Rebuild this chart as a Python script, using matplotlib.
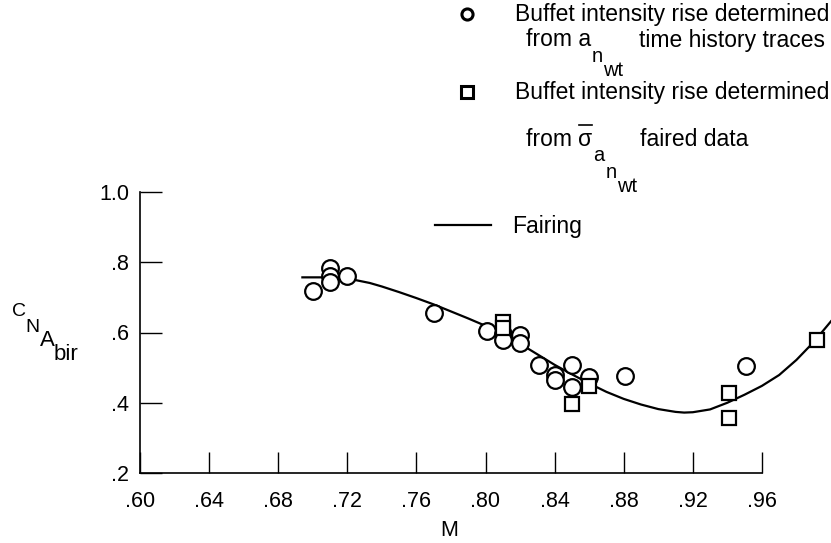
import numpy as np
import matplotlib.pyplot as plt

plt.rcParams["font.family"] = ["Liberation Sans", "DejaVu Sans"]

W, H = 831, 543

# ---- data ----
# circles: buffet intensity rise from a_n_wt time history traces
circ_M = [0.700, 0.710, 0.710, 0.710, 0.720, 0.770, 0.801, 0.810, 0.810,
          0.820, 0.820, 0.831, 0.840, 0.840, 0.850, 0.850, 0.860, 0.881, 0.951]
circ_C = [0.717, 0.783, 0.762, 0.745, 0.760, 0.655, 0.605, 0.597, 0.580,
          0.593, 0.570, 0.508, 0.479, 0.465, 0.508, 0.446, 0.472, 0.476, 0.505]

# squares: from sigma_a_n_wt faired data
sq_M = [0.810, 0.810, 0.850, 0.860, 0.941, 0.941, 0.992]
sq_C = [0.630, 0.613, 0.397, 0.448, 0.427, 0.356, 0.579]

# fairing curve
fair_M = [0.694, 0.705, 0.715, 0.725, 0.733, 0.740, 0.750, 0.760, 0.770,
          0.780, 0.790, 0.800, 0.810, 0.820, 0.830, 0.840, 0.850, 0.860,
          0.870, 0.880, 0.890, 0.900, 0.910, 0.915, 0.920, 0.930, 0.940,
          0.950, 0.960, 0.970, 0.980, 0.990, 1.000]
fair_C = [0.757, 0.757, 0.755, 0.749, 0.741, 0.731, 0.715, 0.698, 0.680,
          0.660, 0.640, 0.619, 0.595, 0.568, 0.538, 0.508, 0.481, 0.455,
          0.431, 0.411, 0.395, 0.382, 0.374, 0.372, 0.373, 0.381, 0.400,
          0.423, 0.448, 0.479, 0.522, 0.573, 0.632]

x_ticks = [0.60, 0.64, 0.68, 0.72, 0.76, 0.80, 0.84, 0.88, 0.92, 0.96]
x_labels = [".60", ".64", ".68", ".72", ".76", ".80", ".84", ".88", ".92", ".96"]
y_ticks = [0.2, 0.4, 0.6, 0.8, 1.0]
y_labels = [".2", ".4", ".6", ".8", "1.0"]


def fx(px):
    return px / W


def fy(py):
    return 1 - py / H


fig = plt.figure(figsize=(W / 100, H / 100), dpi=100)
renderer = fig.canvas.get_renderer()
ax = fig.add_axes([fx(140), fy(473), fx(831) - fx(140), fy(192) - fy(473)])

ax.plot(fair_M, fair_C, color="black", lw=1.6, clip_on=False)
ax.plot(circ_M, circ_C, "o", ms=12, mfc="white", mec="black", mew=1.6, clip_on=False)
ax.plot(sq_M, sq_C, "s", ms=10, mfc="white", mec="black", mew=1.6, clip_on=False)

ax.set_xlim(0.6, 1.0)
ax.set_ylim(0.2, 1.0)
ax.spines["top"].set_visible(False)
ax.spines["right"].set_visible(False)
ax.spines["bottom"].set_bounds(0.6, 0.96)
ax.spines["bottom"].set_linewidth(1.2)
ax.spines["left"].set_linewidth(1.2)

ax.set_xticks(x_ticks)
ax.set_xticklabels(x_labels)
ax.set_yticks(y_ticks)
ax.set_yticklabels(y_labels)
ax.tick_params(axis="x", direction="in", length=15, width=1, pad=13, labelsize=15.5)
ax.tick_params(axis="y", direction="in", length=16, width=1, pad=8, labelsize=15.5)

# axis labels
fig.text(fx(449), fy(531), "M", fontsize=15.5, ha="center", va="center")
fig.text(fx(19), fy(312), "C", fontsize=14, ha="center", va="center")
fig.text(fx(32), fy(327), "N", fontsize=14, ha="center", va="center")
fig.text(fx(47), fy(341), "A", fontsize=16, ha="center", va="center")
fig.text(fx(54), fy(354), "bir", fontsize=16, ha="left", va="center")


def put(px, py, s, size, ha="left"):
    # place text at pixel coords, return its right edge in pixels
    t = fig.text(fx(px), fy(py), s, fontsize=size, va="center", ha=ha)
    return t.get_window_extent(renderer).x1


# legend
fs = 16.5
fss = 14.5
fig.lines.append(plt.Line2D([fx(467)], [fy(14)], marker="o", ms=8, mfc="white",
                            mec="black", mew=2.2, transform=fig.transFigure))
put(515, 14, "Buffet intensity rise determined", fs)
x = put(526, 40, "from a", fs)
x = put(x + 1, 56, "n", fss)
put(x, 70, "wt", fss)
put(825, 40, "time history traces", fs, ha="right")

fig.lines.append(plt.Line2D([fx(467)], [fy(92)], marker="s", ms=8, mfc="white",
                            mec="black", mew=2.2, transform=fig.transFigure))
put(515, 92, "Buffet intensity rise determined", fs)
x = put(526, 139, "from ", fs)
sig = fig.text(fx(x), fy(139), "σ", fontsize=fs, va="center")
bb = sig.get_window_extent(renderer)
fig.lines.append(plt.Line2D([fx(bb.x0 + 1), fx(bb.x1 - 1)], [fy(125), fy(125)],
                            color="black", lw=1.2, transform=fig.transFigure))
x = put(bb.x1 + 1, 156, "a", fss)
x = put(x + 1, 172, "n", fss)
put(x, 186, "wt", fss)
put(640, 139, "faired data", fs)

fig.lines.append(plt.Line2D([fx(435), fx(491)], [fy(225), fy(225)], color="black",
                            lw=1.6, transform=fig.transFigure))
put(512, 226, "Fairing", fs)

fig.savefig("out.png", dpi=100)
